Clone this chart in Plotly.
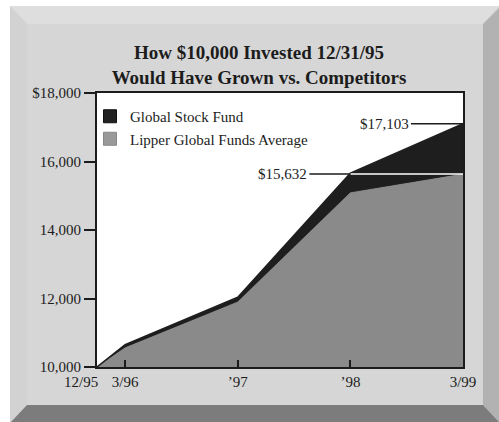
import plotly.graph_objects as go

# ---- data ----
periods = ["12/95", "3/96", "’97", "’98", "3/99"]
period_pos = [0, 0.25, 1.25, 2.25, 3.25]
global_stock_fund = [10000, 10650, 12040, 15660, 17103]
lipper_average = [10000, 10560, 11900, 15090, 15632]
y_ticks = [10000, 12000, 14000, 16000, 18000]
y_tick_text = ["10,000", "12,000", "14,000", "16,000", "$18,000"]

W, H = 499, 422
L, R, T, B = 97, 463, 93, 367

def px(xp):
    return (xp - L) / (R - L)

def py(yp):
    return (B - yp) / (B - T)

def poly(pts):
    return "M " + " L ".join(f"{px(a):.4f},{py(b):.4f}" for a, b in pts) + " Z"

FONT = "Liberation Serif, Times New Roman, serif"
INK = "#1c1c1c"
BLACK_FILL = "#1e1e1e"
GRAY_FILL = "#8a8a8a"

fig = go.Figure()

fig.add_trace(go.Scatter(
    x=period_pos, y=lipper_average, mode="lines", fill="tozeroy",
    fillcolor=GRAY_FILL, line=dict(color=GRAY_FILL, width=0.5),
    showlegend=False, hoverinfo="skip", name="Lipper Global Funds Average"))
fig.add_trace(go.Scatter(
    x=period_pos, y=global_stock_fund, mode="lines", fill="tonexty",
    fillcolor=BLACK_FILL, line=dict(color=BLACK_FILL, width=1.5),
    showlegend=False, hoverinfo="skip", name="Global Stock Fund"))

# legend entries
fig.add_trace(go.Scatter(
    x=[None], y=[None], mode="markers", name="Global Stock Fund",
    marker=dict(symbol="square", size=13, color="#222222",
                line=dict(color="#111111", width=1))))
fig.add_trace(go.Scatter(
    x=[None], y=[None], mode="markers", name="Lipper Global Funds Average",
    marker=dict(symbol="square", size=13, color="#999999",
                line=dict(color="#888888", width=1))))

shapes = [
    dict(type="rect", xref="paper", yref="paper", x0=px(0), x1=px(W), y0=py(6), y1=py(-5),
         fillcolor="white", line=dict(width=0), layer="below"),
    dict(type="rect", xref="paper", yref="paper", x0=px(-5), x1=px(10), y0=py(430), y1=py(0),
         fillcolor="white", line=dict(width=0), layer="below"),
    dict(type="path", xref="paper", yref="paper",
         path=poly([(10, 6), (499, 6), (483, 24), (27, 24)]),
         fillcolor="#dedede", line=dict(width=0), layer="below"),
    dict(type="path", xref="paper", yref="paper",
         path=poly([(10, 6), (27, 24), (27, 405), (10, 422)]),
         fillcolor="#d2d2d2", line=dict(width=0), layer="below"),
    dict(type="path", xref="paper", yref="paper",
         path=poly([(483, 24), (500, 7), (500, 423), (483, 405)]),
         fillcolor="#b2b2b2", line=dict(width=0), layer="below"),
    dict(type="path", xref="paper", yref="paper",
         path=poly([(10, 423), (27, 405), (483, 405), (500, 423)]),
         fillcolor="#7c7c7c", line=dict(width=0), layer="below"),
    dict(type="rect", xref="paper", yref="paper", x0=0, x1=1, y0=0, y1=1,
         fillcolor="white", line=dict(width=0), layer="below"),
    dict(type="line", xref="x", yref="y",
         x0=period_pos[3], x1=period_pos[-1], y0=lipper_average[-1], y1=lipper_average[-1],
         line=dict(color="white", width=1.5), layer="above"),
]

annotations = [
    dict(x=period_pos[-1], y=global_stock_fund[-1], xref="x", yref="y",
         text="$17,103", showarrow=True, arrowhead=0, arrowwidth=1.5, arrowcolor=INK,
         ax=-52, ay=0, xanchor="right", font=dict(family=FONT, size=15, color=INK)),
    dict(x=period_pos[3], y=lipper_average[-1], xref="x", yref="y",
         text="$15,632", showarrow=True, arrowhead=0, arrowwidth=1.5, arrowcolor=INK,
         ax=-41, ay=0, xanchor="right", font=dict(family=FONT, size=15, color=INK)),
    # first x label, set off to the left of its tick as in the original
    dict(x=period_pos[0], y=0, xref="x", yref="paper", yshift=-5,
         text=periods[0], showarrow=False, xanchor="right", yanchor="top", xshift=3,
         font=dict(family=FONT, size=15, color=INK)),
]

fig.update_layout(
    width=W, height=H,
    margin=dict(l=L, r=W - R, t=T, b=H - B, pad=0),
    paper_bgcolor="#d6d6d6", plot_bgcolor="white",
    font=dict(family=FONT, size=15, color=INK),
    title=dict(text="How $10,000 Invested 12/31/95<br>Would Have Grown vs. Competitors",
               x=259 / W, xanchor="center", xref="container",
               y=1 - 59 / H, yanchor="middle",
               font=dict(family=FONT, size=19, color=INK, weight="bold")),
    showlegend=True,
    legend=dict(x=px(90), y=py(100), xanchor="left", yanchor="top",
                traceorder="normal",
                bgcolor="rgba(0,0,0,0)", borderwidth=0,
                font=dict(family=FONT, size=15, color=INK),
                tracegroupgap=0),
    xaxis=dict(range=[period_pos[0], period_pos[-1]], tickvals=period_pos,
               ticktext=[""] + periods[1:], ticks="inside", ticklen=7, tickwidth=1.5,
               tickcolor=INK, showline=True, linecolor=INK, linewidth=2, mirror=True,
               showgrid=False, zeroline=False, tickangle=0,
               tickfont=dict(family=FONT, size=15, color=INK), fixedrange=True),
    yaxis=dict(range=[10000, 18000], tickvals=y_ticks, ticktext=y_tick_text,
               ticks="outside", ticklen=11, tickwidth=1.5, tickcolor=INK,
               showline=True, linecolor=INK, linewidth=2, mirror=True,
               showgrid=False, zeroline=False,
               tickfont=dict(family=FONT, size=15, color=INK), fixedrange=True),
    shapes=shapes,
    annotations=annotations,
)

fig.write_html("out.html")
